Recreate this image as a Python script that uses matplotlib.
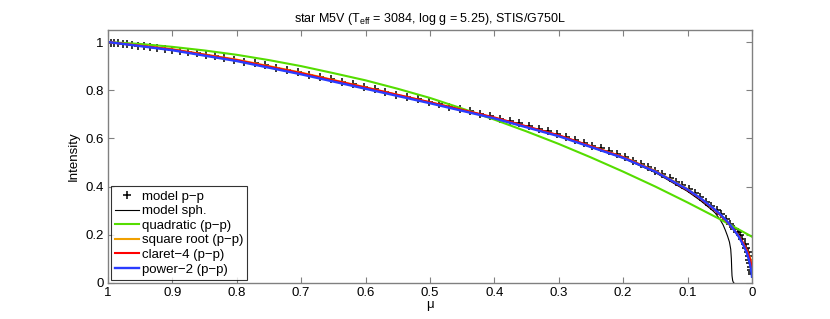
import numpy as np
import matplotlib
matplotlib.use("Agg")
import matplotlib.pyplot as plt
from matplotlib.ticker import FuncFormatter

plt.rcParams['font.family'] = ['Liberation Sans', 'DejaVu Sans']
plt.rcParams['mathtext.fontset'] = 'custom'
plt.rcParams['mathtext.rm'] = 'Liberation Sans'
plt.rcParams['mathtext.it'] = 'Liberation Sans:italic'

mu_pp = [1.000, 0.995, 0.990, 0.984, 0.977, 0.970, 0.962, 0.953, 0.944, 0.934,
         0.923, 0.912, 0.900, 0.888, 0.875, 0.862, 0.848, 0.834, 0.819, 0.804,
         0.788, 0.772, 0.756, 0.739, 0.722, 0.705, 0.688, 0.671, 0.654, 0.637,
         0.620, 0.603, 0.586, 0.569, 0.552, 0.535, 0.519, 0.502, 0.486, 0.470,
         0.454, 0.438, 0.422, 0.406, 0.391, 0.376, 0.361, 0.346, 0.331, 0.317,
         0.303, 0.289, 0.275, 0.261, 0.248, 0.235, 0.222, 0.209, 0.197, 0.185,
         0.173, 0.161, 0.150, 0.139, 0.128, 0.118, 0.108, 0.098, 0.089, 0.080,
         0.071, 0.063, 0.055, 0.048, 0.041, 0.034, 0.028, 0.022, 0.018, 0.015,
         0.0115, 0.009, 0.0068, 0.0053, 0.0040, 0.0030, 0.0020, 0.0012, 0.0005, 0.0]
I_pp = [1.000, 0.998, 0.997, 0.995, 0.993, 0.990, 0.988, 0.985, 0.982, 0.979,
        0.975, 0.972, 0.968, 0.963, 0.958, 0.953, 0.947, 0.940, 0.934, 0.927,
        0.919, 0.911, 0.903, 0.894, 0.884, 0.875, 0.865, 0.855, 0.845, 0.835,
        0.824, 0.814, 0.803, 0.793, 0.782, 0.772, 0.762, 0.751, 0.742, 0.732,
        0.722, 0.712, 0.702, 0.692, 0.682, 0.672, 0.662, 0.652, 0.640, 0.629,
        0.617, 0.606, 0.594, 0.582, 0.570, 0.559, 0.546, 0.534, 0.521, 0.508,
        0.494, 0.480, 0.466, 0.451, 0.435, 0.420, 0.405, 0.388, 0.372, 0.355,
        0.336, 0.319, 0.302, 0.285, 0.265, 0.244, 0.226, 0.210, 0.197, 0.182,
        0.162, 0.146, 0.128, 0.112, 0.096, 0.081, 0.067, 0.054, 0.044, 0.036]

# model sph.
mu_sph = [1.0, 0.9, 0.8, 0.7, 0.6, 0.5, 0.4, 0.3, 0.2, 0.15, 0.1, 0.08, 0.06,
          0.057, 0.05, 0.045, 0.0415, 0.038, 0.035, 0.033, 0.032, 0.0315,
          0.031, 0.030, 0.029, 0.028]
I_sph = [1.0, 0.966, 0.922, 0.868, 0.808, 0.747, 0.684, 0.610, 0.518, 0.458,
         0.380, 0.342, 0.298, 0.290, 0.265, 0.242, 0.220, 0.195, 0.170, 0.140,
         0.100, 0.060, 0.030, 0.010, 0.003, 0.0]

# fitted laws
mu_fit = [1.0, 0.95, 0.9, 0.85, 0.8, 0.75, 0.7, 0.65, 0.6, 0.55, 0.5, 0.45,
          0.4, 0.35, 0.3, 0.25, 0.2, 0.15, 0.1, 0.05, 0.0]
I_quad = [1.000, 0.992, 0.980, 0.965, 0.947, 0.925, 0.900, 0.871, 0.841, 0.806,
          0.768, 0.724, 0.678, 0.629, 0.577, 0.521, 0.462, 0.400, 0.334, 0.265, 0.192]

mu_law = [1.0, 0.9, 0.8, 0.7, 0.6, 0.5, 0.4, 0.3, 0.2, 0.15, 0.1, 0.08, 0.06,
          0.05, 0.04, 0.03, 0.02, 0.013, 0.008, 0.005, 0.003, 0.0015, 0.0005, 0.0]
I_sqrt = [1.000, 0.970, 0.927, 0.873, 0.812, 0.750, 0.685, 0.612, 0.523, 0.465,
          0.390, 0.352, 0.309, 0.285, 0.258, 0.228, 0.192, 0.162, 0.136, 0.118,
          0.104, 0.092, 0.080, 0.070]
I_claret = [1.000, 0.969, 0.925, 0.871, 0.811, 0.750, 0.687, 0.613, 0.522, 0.463,
            0.386, 0.350, 0.308, 0.284, 0.258, 0.228, 0.193, 0.163, 0.135, 0.115,
            0.098, 0.082, 0.066, 0.055]
I_power2 = [1.000, 0.966, 0.921, 0.866, 0.806, 0.746, 0.683, 0.609, 0.519, 0.462,
            0.388, 0.352, 0.310, 0.287, 0.260, 0.228, 0.190, 0.155, 0.125, 0.098,
            0.075, 0.055, 0.038, 0.026]

fig = plt.figure(figsize=(8.3, 3.19), dpi=100)
ax = fig.add_axes([0.130, 0.113, 0.776, 0.793])

ax.plot(mu_pp, I_pp, '+', color='k', markersize=6, mew=1.1, label='model p\u2212p')
ax.plot(mu_sph, I_sph, '-', color='k', lw=0.8, label='model sph.')
ax.plot(mu_fit, I_quad, '-', color='#55dd00', lw=1.5, label='quadratic (p\u2212p)')
ax.plot(mu_law, I_sqrt, '-', color='#f0a000', lw=1.5, label='square root (p\u2212p)')
ax.plot(mu_law, I_claret, '-', color='#ff0000', lw=1.5, label='claret\u22124 (p\u2212p)')
ax.plot(mu_law, I_power2, '-', color='#2a3cff', lw=1.7, label='power\u22122 (p\u2212p)')

ax.set_xlim(1, 0)
ax.set_ylim(0, 1.05)
ax.set_xticks(np.arange(0, 1.01, 0.1))
ax.set_yticks(np.arange(0, 1.01, 0.2))
fmt = FuncFormatter(lambda v, p: '%g' % round(v, 1))
ax.xaxis.set_major_formatter(fmt)
ax.yaxis.set_major_formatter(fmt)
ax.tick_params(direction='in', length=4, width=0.8, color='#808080',
               top=True, right=True, labelsize=9.5, pad=3)
for s in ax.spines.values():
    s.set_color('#808080')
    s.set_linewidth(1.0)

ax.set_xlabel('\u03bc', fontsize=9.5, labelpad=0)
ax.set_ylabel('Intensity', fontsize=9.5, labelpad=4)
ax.set_title(r'star M5V (T$_{\rm eff}$ = 3084, log g = 5.25), STIS/G750L', fontsize=9, pad=6)

leg = ax.legend(loc='lower left', bbox_to_anchor=(0, 0), borderaxespad=0.25,
                fontsize=9.5, frameon=True, fancybox=False, handlelength=1.8,
                handletextpad=0.2, labelspacing=0.18, borderpad=0.3)
leg.get_frame().set_edgecolor('k')
leg.get_frame().set_linewidth(0.8)

fig.savefig('out.png', dpi=100)
